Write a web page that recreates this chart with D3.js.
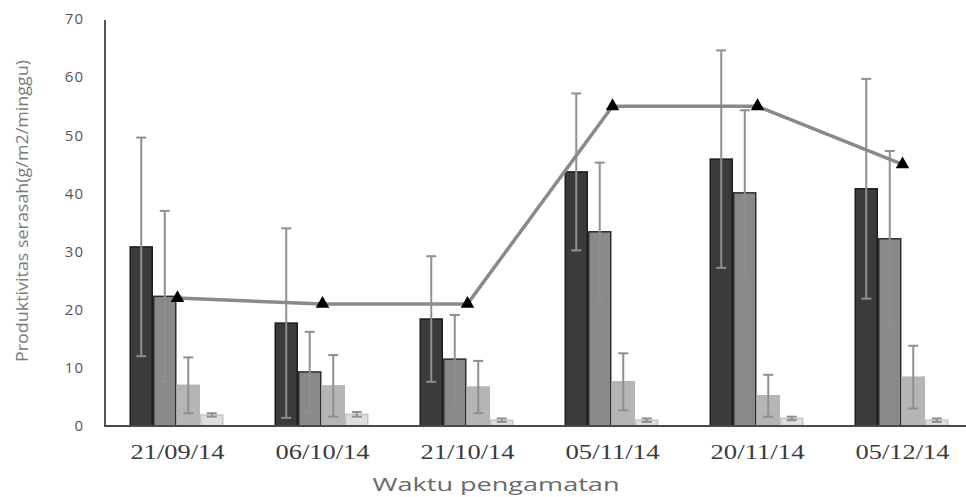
<!DOCTYPE html>
<html>
<head>
<meta charset="utf-8">
<script src="https://cdn.jsdelivr.net/npm/d3@7"></script>
<style>
  body { margin: 0; background: #fff; }
  text { font-family: "Open Sans", sans-serif; }
</style>
</head>
<body>
<div id="chart"></div>
<script>
// observation dates
const dates = ["21/09/14", "06/10/14", "21/10/14", "05/11/14", "20/11/14", "05/12/14"];

// bar series (g/m2/minggu) and their error values
const series1 = [30.8, 17.7, 18.4, 43.7, 45.9, 40.8];
const err1 = [18.8, 16.3, 10.8, 13.5, 18.7, 18.9];
const series2 = [22.3, 9.3, 11.5, 33.4, 40.1, 32.2];
const err2 = [14.7, 6.9, 7.6, 11.9, 14.2, 15.1];
const series3 = [7.0, 6.9, 6.7, 7.6, 5.2, 8.4];
const err3 = [4.8, 5.3, 4.5, 4.9, 3.6, 5.4];
const series4 = [1.9, 2.0, 1.0, 1.0, 1.3, 1.0];
const err4 = [0.3, 0.4, 0.3, 0.3, 0.3, 0.3];

// total (line with triangles)
const total = [22, 21, 21, 55, 55, 45];

const yTicks = [0, 10, 20, 30, 40, 50, 60, 70];

let height = 497,
  width = 966,
  margin = ({ top: 19, right: -9, bottom: 71, left: 105 });

const svg = d3.select("#chart")
  .append("svg")
  .attr("width", width)
  .attr("height", height)
  .attr("viewBox", [0, 0, width, height]);

const keys = ["s1", "s2", "s3", "s4"];
const fills = { s1: "#3b3b3b", s2: "#898989", s3: "#b5b5b5", s4: "#dedede" };
const strokes = { s1: "#1c1c1c", s2: "#2e2e2e", s3: "#b5b5b5", s4: "#c4c4c4" };

const data = dates.map((d, i) => ({
  date: d,
  bars: [
    { key: "s1", v: series1[i], e: err1[i] },
    { key: "s2", v: series2[i], e: err2[i] },
    { key: "s3", v: series3[i], e: err3[i] },
    { key: "s4", v: series4[i], e: err4[i] }
  ],
  total: total[i]
}));

let x = d3.scaleBand()
  .domain(dates)
  .range([margin.left, width - margin.right]);

let xs = d3.scaleBand()
  .domain(keys)
  .range([-48, 46]);

let y = d3.scaleLinear()
  .domain([0, 70])
  .range([height - margin.bottom, margin.top]);

const cx = d => x(d) + x.bandwidth() / 2;

// y tick labels (no tick marks)
svg.append("g")
  .selectAll("text")
  .data(yTicks)
  .join("text")
  .attr("x", 84)
  .attr("y", d => y(d))
  .attr("dy", "0.35em")
  .attr("text-anchor", "end")
  .attr("fill", "#555")
  .style("font-size", "15px")
  .style("letter-spacing", "1px")
  .text(d => d);

// bars
const groups = svg.append("g")
  .selectAll("g")
  .data(data)
  .join("g")
  .attr("transform", d => `translate(${cx(d.date)},0)`);

groups.selectAll("rect")
  .data(d => d.bars)
  .join("rect")
  .attr("x", d => xs(d.key) + 0.75)
  .attr("width", xs.bandwidth() - 1.5)
  .attr("y", d => y(d.v))
  .attr("height", d => y(0) - y(d.v))
  .attr("fill", d => fills[d.key])
  .attr("stroke", d => strokes[d.key])
  .attr("stroke-width", 1.5);

// error bars
const eb = groups.selectAll("g.err")
  .data(d => d.bars)
  .join("g")
  .attr("class", "err")
  .attr("stroke", "#8f8f8f")
  .attr("stroke-width", 2);

eb.append("line")
  .attr("x1", d => xs(d.key) + xs.bandwidth() / 2)
  .attr("x2", d => xs(d.key) + xs.bandwidth() / 2)
  .attr("y1", d => y(Math.max(0, d.v - d.e)))
  .attr("y2", d => y(d.v + d.e));

eb.append("line")
  .attr("x1", d => xs(d.key) + xs.bandwidth() / 2 - 5)
  .attr("x2", d => xs(d.key) + xs.bandwidth() / 2 + 5)
  .attr("y1", d => y(d.v + d.e))
  .attr("y2", d => y(d.v + d.e));

eb.append("line")
  .attr("x1", d => xs(d.key) + xs.bandwidth() / 2 - 5)
  .attr("x2", d => xs(d.key) + xs.bandwidth() / 2 + 5)
  .attr("y1", d => y(Math.max(0, d.v - d.e)))
  .attr("y2", d => y(Math.max(0, d.v - d.e)));

// axes lines
svg.append("line")
  .attr("x1", margin.left)
  .attr("x2", margin.left)
  .attr("y1", margin.top + 1)
  .attr("y2", y(0))
  .attr("stroke", "#555")
  .attr("stroke-width", 2);

svg.append("line")
  .attr("x1", margin.left - 1)
  .attr("x2", width)
  .attr("y1", y(0))
  .attr("y2", y(0))
  .attr("stroke", "#4a4a4a")
  .attr("stroke-width", 2);

// total line
svg.append("path")
  .datum(data)
  .attr("fill", "none")
  .attr("stroke", "#8a8a8a")
  .attr("stroke-width", 3.5)
  .attr("d", d3.line().x(d => cx(d.date)).y(d => y(d.total)));

svg.append("g")
  .selectAll("path")
  .data(data)
  .join("path")
  .attr("transform", d => `translate(${cx(d.date)},${y(d.total)})`)
  .attr("d", d3.symbol(d3.symbolTriangle, 80))
  .attr("fill", "#000");

// x tick labels
svg.append("g")
  .selectAll("text")
  .data(dates)
  .join("text")
  .attr("x", d => cx(d))
  .attr("y", 459)
  .attr("text-anchor", "middle")
  .attr("fill", "#3a3a3a")
  .attr("textLength", 94)
  .attr("lengthAdjust", "spacingAndGlyphs")
  .style("font-family", "'Liberation Serif', serif")
  .style("font-size", "20px")
  .text(d => d);

// labels
svg.append("text")
  .attr("x", 496)
  .attr("y", 491)
  .attr("text-anchor", "middle")
  .attr("fill", "#6a6a6a")
  .attr("textLength", 247)
  .attr("lengthAdjust", "spacingAndGlyphs")
  .style("font-size", "19px")
  .text("Waktu pengamatan");

svg.append("text")
  .attr("transform", "rotate(-90)")
  .attr("x", -211)
  .attr("y", 28)
  .attr("text-anchor", "middle")
  .attr("fill", "#7a7a7a")
  .attr("textLength", 302)
  .attr("lengthAdjust", "spacingAndGlyphs")
  .style("font-size", "16px")
  .text("Produktivitas serasah(g/m2/minggu)");
</script>
</body>
</html>
